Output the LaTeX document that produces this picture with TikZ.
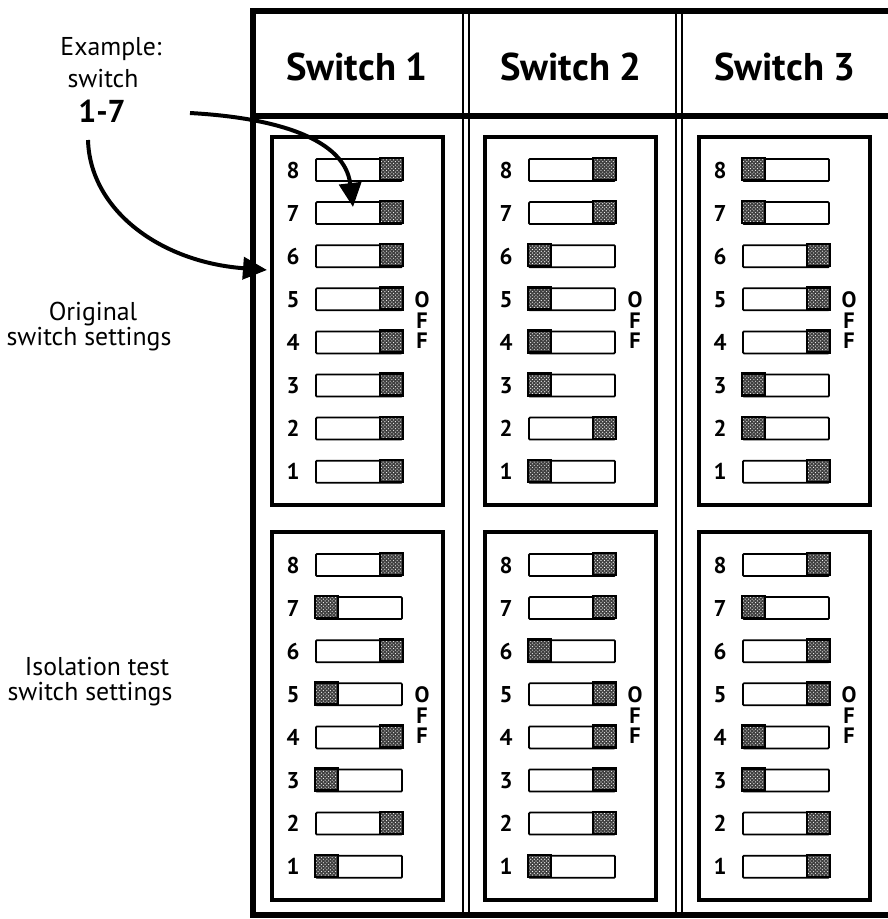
\documentclass[tikz,border=0pt]{standalone}
\usepackage{fontspec}
\setmainfont{PT Sans}
\usetikzlibrary{arrows.meta,patterns}

\tikzset{
  tabrule/.style={line width=5pt},
  sepline/.style={line width=1.6pt},
  bank/.style={draw, line width=3.2pt},
  slot/.style={draw, line width=1.5pt, rounded corners=0.8pt, minimum width=25.8mm, minimum height=6.6mm, inner sep=0pt},
  knob/.style={draw, line width=2pt, preaction={fill=black!75}, pattern=crosshatch dots, pattern color=white},
  swnum/.style={font=\fontsize{19.5}{19.5}\selectfont\bfseries, inner sep=0pt},
  offlbl/.style={font=\fontsize{19}{17.5}\selectfont\bfseries, align=center, inner sep=0pt},
  head/.style={font=\fontsize{33}{36}\selectfont\bfseries},
  side/.style={font=\fontsize{22}{24}\selectfont, anchor=base, inner sep=0pt},
  pointer/.style={line width=3.4pt, -{Triangle[length=7.2mm, width=6.6mm]}},
}

% one bank of 8 dip switches: name, box left, box top, states 8..1 (1 = off)
\newcommand{\dipbank}[4]{%
  \draw[bank] (#2,#3) rectangle ++(171,368);
  \foreach \s [count=\i] in {#4} {
    \pgfmathtruncatemacro{\n}{9-\i}
    \pgfmathsetmacro{\yy}{#3+33+(\i-1)*43.1}
    \node[swnum] (#1-n\n) at (#2+21,\yy) {\n};
    \node[slot] (#1-\n) at (#2+87,\yy) {};
    \ifnum\s=1
      \draw[knob] (#1-\n.north east) rectangle ++(-23,22);
    \else
      \draw[knob] (#1-\n.north west) rectangle ++(23,22);
    \fi
  }
  \node[offlbl] (#1-off) at (#2+150,#3+33+3*43.1+21) {O\\F\\F};
}

\begin{document}
\begin{tikzpicture}[x=0.3mm, y=-0.3mm]
  \useasboundingbox (0,0) rectangle (888,919);

  % table
  \draw[tabrule] (253,11) rectangle (892,915);
  \draw[tabrule] (253,116) -- (892,116);
  \foreach \x in {463,469,676,682} \draw[sepline] (\x,11) -- (\x,915);

  \node[head] (h1) at (357,67) {Switch 1};
  \node[head] (h2) at (571,67) {Switch 2};
  \node[head] (h3) at (785,67) {Switch 3};

  % original settings
  \dipbank{a1}{272}{137}{1,1,1,1,1,1,1,1}
  \dipbank{a2}{485}{137}{1,1,0,0,0,0,1,0}
  \dipbank{a3}{699}{137}{0,0,1,1,1,0,0,1}

  % isolation test settings
  \dipbank{b1}{272}{532}{1,0,1,0,1,0,1,0}
  \dipbank{b2}{485}{532}{1,1,0,1,1,1,1,0}
  \dipbank{b3}{699}{532}{1,0,1,1,0,0,1,1}

  % left side labels
  \node[side] (ex) at (111,55) {Example:};
  \node[side] (exsw) at (103,87) {switch};
  \node[side, font=\fontsize{27}{28}\selectfont\bfseries] (ex17) at (102,122) {1-7};
  \node[side] (orig) at (93,320) {Original};
  \node[side] (origsw) at (89,345) {switch settings};
  \node[side] (iso) at (97,675) {Isolation test};
  \node[side] (isosw) at (90,700) {switch settings};

  \coordinate (ex-a) at (190,113);
  \coordinate (ex-b) at (88,140);
  \coordinate (tip7) at (353,207);
  \coordinate (tipbank) at (267,270);
  \draw[pointer] (ex-a) .. controls (280,118) and (345,140) .. (tip7);
  \draw[pointer] (ex-b) .. controls (90,210) and (160,262) .. (tipbank);
\end{tikzpicture}
\end{document}
